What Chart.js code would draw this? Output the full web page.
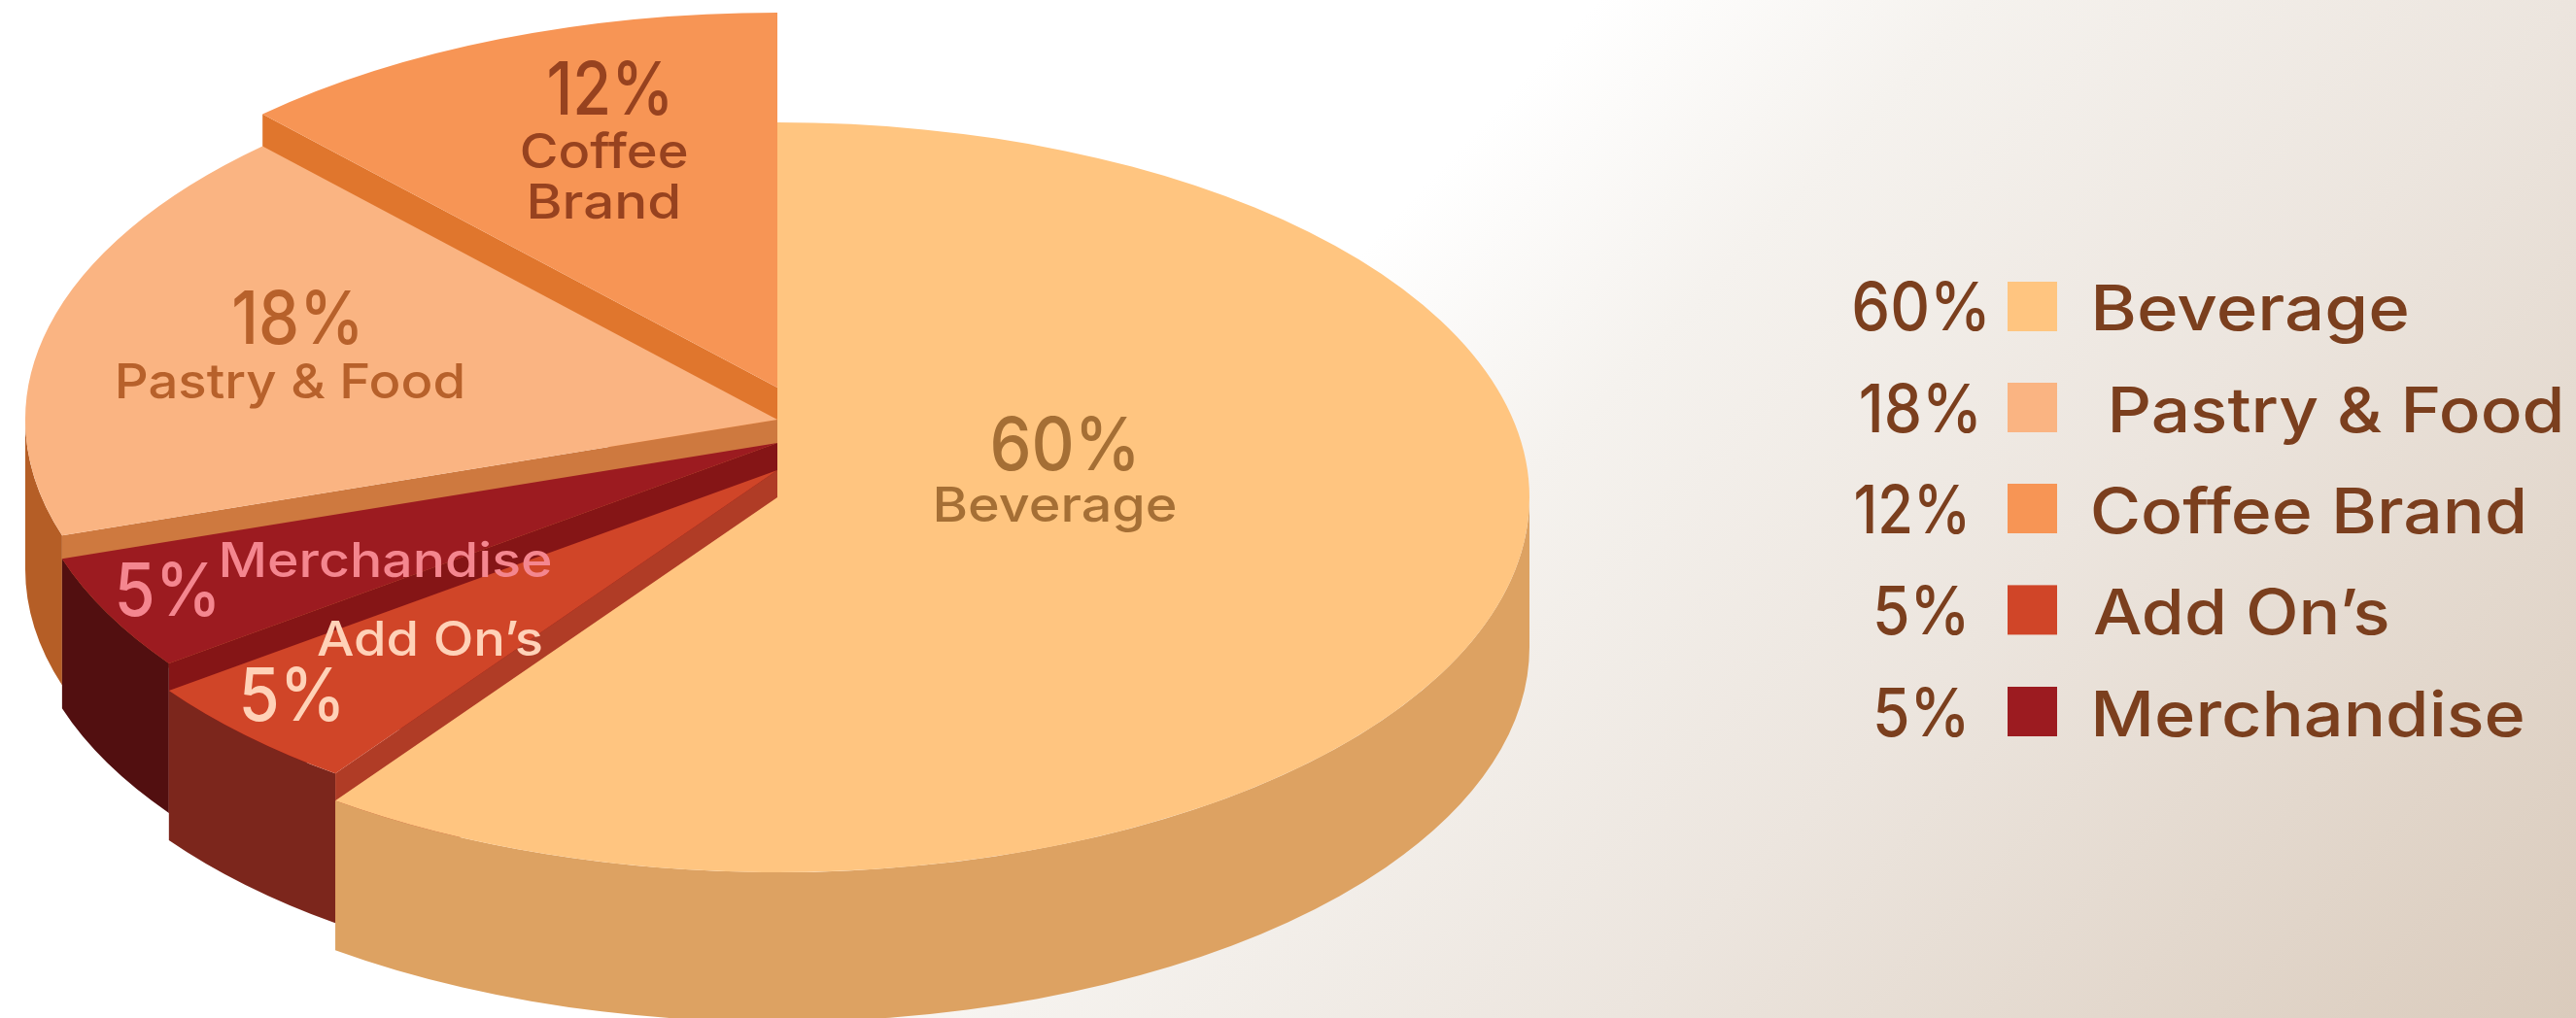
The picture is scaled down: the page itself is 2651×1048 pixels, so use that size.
<!DOCTYPE html>
<html><head><meta charset="utf-8">
<style>html,body{margin:0;padding:0;background:#fff}#wrap{width:2651px;height:1048px;overflow:hidden}canvas{display:block}</style>
<script src="https://cdn.jsdelivr.net/npm/chart.js@4"></script>
</head><body><div id="wrap"><canvas id="c" width="2651" height="1048"></canvas></div>
<script>
const categories = ["Beverage", "Add On\u2019s", "Merchandise", "Pastry & Food", "Coffee Brand"];
const shares = [60, 5, 5, 18, 12];
const legendOrder = ["Beverage", "Pastry & Food", "Coffee Brand", "Add On\u2019s", "Merchandise"];
const topColors = ["#FFC580", "#D04528", "#9C1B20", "#FAB482", "#F79555"];
const wallColors = ["#DDA262", "#7C261C", "#520F10", "#B55E26", "#E0762D"];
const edgeColors = [null, "#B03C26", "#851516", "#CE793F", "#E0762D"];
const liftY = [0, 28, 56, 80, 113];
const SQUASH = 386 / 774, DEPTH = 154;
const FONT = 'Inter, "Open Sans", sans-serif';
const sliceText = {
  "Beverage": {c:"#A56F35", pct:[1022,1167,483.5,76], lines:[["Beverage",964,1210,537,50]]},
  "Add On\u2019s": {c:"#FFD2B8", pct:[250,349,741.6,76], lines:[["Add On\u2019s",327,557,674.6,50]]},
  "Merchandise": {c:"#F4868F", pct:[122,221,634,76], lines:[["Merchandise",229,567,594,50]]},
  "Pastry & Food": {c:"#B7612B", pct:[241,368,353.6,76], lines:[["Pastry & Food",122,476,409.6,50]]},
  "Coffee Brand": {c:"#97421F", pct:[565,687,118,76], lines:[["Coffee",537,707,172.5,50],["Brand",546,698,225,50]]}
};
const legendRows = [
  {pct:[1908,2043], base:340, sw:[2066,290,51,51], lab:[2157,2477]},
  {pct:[1915.5,2034], base:445, sw:[2066,394,51,51], lab:[2174,2634.5]},
  {pct:[1910,2022.5], base:549, sw:[2066,498,51,51], lab:[2154,2596]},
  {pct:[1930.5,2021.5], base:653.4, sw:[2066,602.4,51,51], lab:[2155,2457]},
  {pct:[1930.5,2021.5], base:757.6, sw:[2066,707,51,51], lab:[2157,2596]}
];
function fitText(ctx, s, x0, x1, base, size, color, weight){
  ctx.save();
  ctx.font = weight + ' ' + size + 'px ' + FONT;
  ctx.fillStyle = color; ctx.textAlign = 'left'; ctx.textBaseline = 'alphabetic';
  const m = ctx.measureText(s);
  const ink = m.actualBoundingBoxLeft + m.actualBoundingBoxRight;
  const sx = (x1 - x0) / ink;
  ctx.translate(x0, base); ctx.scale(sx, 1);
  ctx.fillText(s, m.actualBoundingBoxLeft, 0);
  ctx.restore();
}
const pie3d = {
  id: 'pie3d',
  beforeDraw(chart){
    const {ctx, width, height} = chart;
    const g = ctx.createLinearGradient(1645, 0, 2702, 994);
    g.addColorStop(0, '#FFFFFF');
    g.addColorStop(0.196, '#F5F2EE');
    g.addColorStop(0.505, '#ECE5DE');
    g.addColorStop(1, '#DACBBC');
    ctx.save(); ctx.fillStyle = g; ctx.fillRect(0, 0, width, height); ctx.restore();
  },
  beforeDatasetDraw(chart){
    const ctx = chart.ctx, arcs = chart.getDatasetMeta(0).data;
    for (let i = arcs.length - 1; i >= 0; i--) {
      const a = arcs[i];
      const {x, y, startAngle, endAngle, outerRadius: R} = a.getProps(['x','y','startAngle','endAngle','outerRadius'], true);
      const ry = R * SQUASH, cy = y - liftY[i];
      ctx.save();
      // outer wall: only the part of the rim that faces the viewer
      const a0 = Math.max(startAngle, 0), a1 = Math.min(endAngle, Math.PI);
      if (a1 > a0) {
        ctx.fillStyle = wallColors[i];
        ctx.beginPath();
        ctx.ellipse(x, cy, R, ry, 0, a0, a1, false);
        ctx.ellipse(x, cy + DEPTH, R, ry, 0, a1, a0, true);
        ctx.closePath(); ctx.fill();
      }
      // cut face along the lower radial edge
      if (edgeColors[i]) {
        const ex = x + Math.cos(startAngle) * R, ey = cy + Math.sin(startAngle) * ry;
        ctx.fillStyle = edgeColors[i];
        ctx.beginPath();
        ctx.moveTo(x, cy); ctx.lineTo(ex, ey); ctx.lineTo(ex, ey + DEPTH); ctx.lineTo(x, cy + DEPTH);
        ctx.closePath(); ctx.fill();
      }
      // top face: the library's own arc, squashed and lifted
      ctx.translate(x, cy); ctx.scale(1, SQUASH); ctx.translate(-x, -y);
      a.draw(ctx);
      ctx.restore();
    }
    return false;
  },
  afterDatasetsDraw(chart){
    const ctx = chart.ctx;
    categories.forEach((name, i) => {
      const t = sliceText[name];
      fitText(ctx, shares[i] + '%', t.pct[0], t.pct[1], t.pct[2], t.pct[3], t.c, 500);
      t.lines.forEach(l => fitText(ctx, l[0], l[1], l[2], l[3], l[4], t.c, 500));
    });
    legendOrder.forEach((name, r) => {
      const i = categories.indexOf(name), row = legendRows[r];
      fitText(ctx, shares[i] + '%', row.pct[0], row.pct[1], row.base, 69, '#7B3F1E', 500);
      ctx.fillStyle = topColors[i];
      ctx.fillRect(row.sw[0], row.sw[1], row.sw[2], row.sw[3]);
      fitText(ctx, name, row.lab[0], row.lab[1], row.base, 64, '#7B3F1E', 500);
    });
  }
};
new Chart(document.getElementById('c'), {
  type: 'pie',
  data: { labels: categories, datasets: [{ data: shares, backgroundColor: topColors, borderWidth: 0 }] },
  options: {
    responsive: false, animation: false, radius: 774,
    layout: { padding: { left: 0, top: 0, right: 1051, bottom: 24 } },
    plugins: { legend: { display: false }, tooltip: { enabled: false } }
  },
  plugins: [pie3d]
});
</script></body></html>
